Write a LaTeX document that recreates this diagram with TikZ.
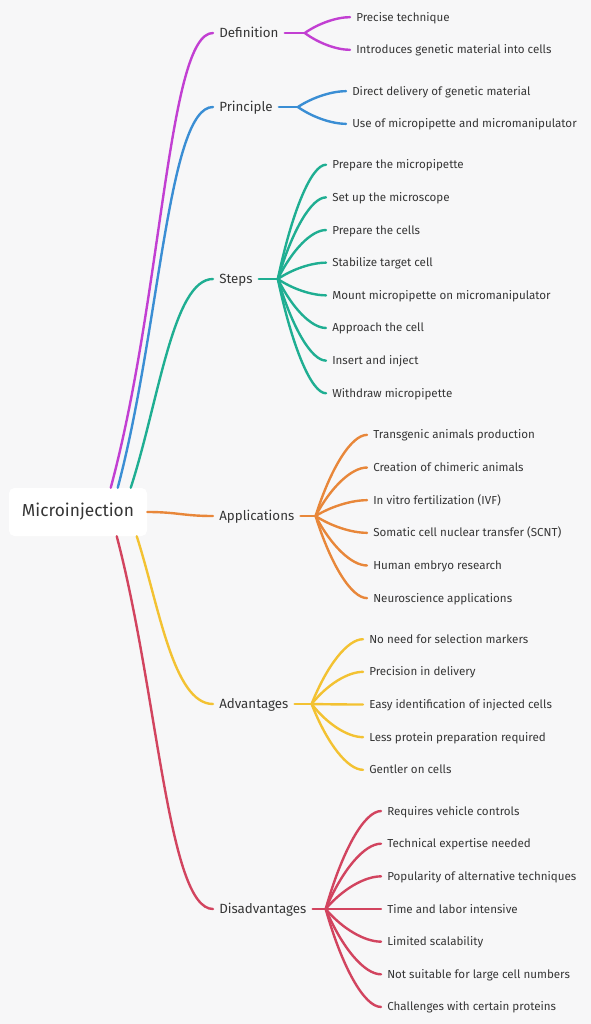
\documentclass[tikz,border=0pt]{standalone}
\usepackage{fontspec}
\setmainfont{Fira Sans}
\usetikzlibrary{calc}
\definecolor{bgcol}{HTML}{F7F7F8}
\definecolor{txtcol}{HTML}{363636}
\definecolor{defcol}{HTML}{C23FD2}
\definecolor{prncol}{HTML}{3A8ED4}
\definecolor{stpcol}{HTML}{1FAE92}
\definecolor{appcol}{HTML}{E8873A}
\definecolor{advcol}{HTML}{F3C232}
\definecolor{discol}{HTML}{D2445F}
\tikzset{
  rootbox/.style={fill=white, rounded corners=4pt, minimum width=103.5pt, minimum height=36pt, text=txtcol, font=\fontsize{13}{15}\selectfont},
  branch/.style={anchor=west, text=txtcol, font=\fontsize{10}{12}\selectfont, inner xsep=4.5pt, inner ysep=0pt, text height=6.9pt, text depth=0pt},
  leaf/.style={anchor=west, text=txtcol, font=\fontsize{8.7}{10}\selectfont, inner xsep=4.5pt, inner ysep=0pt, text height=6pt, text depth=0pt},
  link/.style={line width=1.8pt, line cap=round},
}
\newcommand{\leafline}[3]{\draw[link, #1] let \p1=(#2), \p2=(#3.west) in (\p1) .. controls ({\x1+0.3*(\x2-\x1)},{\y1+0.6*(\y2-\y1)}) and ({\x2-0.3*(\x2-\x1)},\y2) .. (\p2);}
\begin{document}
\begin{tikzpicture}[x=0.75pt,y=-0.75pt]
\fill[bgcol] (0,0) rectangle (591,1024);
\useasboundingbox (0,0) rectangle (591,1024);

\node[rootbox] (root) at (78,512) {Microinjection};

\node[branch] (def) at (213,33) {Definition};
\node[branch] (prn) at (213,107) {Principle};
\node[branch] (stp) at (213,279) {Steps};
\node[branch] (app) at (213,516) {Applications};
\node[branch] (adv) at (213,704) {Advantages};
\node[branch] (dis) at (213,909) {Disadvantages};

\coordinate (r-def) at ($(root.north west)+(102,0)$);
\coordinate (r-prn) at ($(root.north west)+(109,0)$);
\coordinate (r-stp) at ($(root.north west)+(122,0)$);
\coordinate (r-adv) at ($(root.south west)+(128,0)$);
\coordinate (r-dis) at ($(root.south west)+(108,0)$);

\draw[link, defcol] (r-def) .. controls +(52,-193) and +(-45,0) .. (def.west);
\draw[link, prncol] (r-prn) .. controls +(42,-158) and +(-45,0) .. (prn.west);
\draw[link, stpcol] (r-stp) .. controls +(28,-86) and +(-40,0) .. (stp.west);
\draw[link, appcol] (root.east) .. controls +(30,0) and +(-30,0) .. (app.west);
\draw[link, advcol] (r-adv) .. controls +(22,68) and +(-40,0) .. (adv.west);
\draw[link, discol] (r-dis) .. controls +(41,155) and +(-45,0) .. (dis.west);

\coordinate (def-hub) at ($(def.east)+(20,0)$);
\coordinate (prn-hub) at ($(prn.east)+(19,0)$);
\coordinate (stp-hub) at ($(stp.east)+(19,0)$);
\coordinate (app-hub) at ($(app.east)+(15,0)$);
\coordinate (adv-hub) at ($(adv.east)+(17,0)$);
\coordinate (dis-hub) at ($(dis.east)+(13,0)$);

\draw[link, defcol] (def.east) -- (def-hub);
\draw[link, prncol] (prn.east) -- (prn-hub);
\draw[link, stpcol] (stp.east) -- (stp-hub);
\draw[link, appcol] (app.east) -- (app-hub);
\draw[link, advcol] (adv.east) -- (adv-hub);
\draw[link, discol] (dis.east) -- (dis-hub);

\foreach \t [count=\i] in {Precise technique, Introduces genetic material into cells} {
  \node[leaf] (def-\i) at (350,{33.5+(\i-1.5)*32.65}) {\t};
  \leafline{defcol}{def-hub}{def-\i}
}
\foreach \t [count=\i] in {Direct delivery of genetic material, Use of micropipette and micromanipulator} {
  \node[leaf] (prn-\i) at (346,{107.5+(\i-1.5)*32.65}) {\t};
  \leafline{prncol}{prn-hub}{prn-\i}
}
\foreach \t [count=\i] in {Prepare the micropipette, Set up the microscope, Prepare the cells, Stabilize target cell, Mount micropipette on micromanipulator, Approach the cell, Insert and inject, Withdraw micropipette} {
  \node[leaf] (stp-\i) at (326,{279+(\i-4.5)*32.65}) {\t};
  \leafline{stpcol}{stp-hub}{stp-\i}
}
\foreach \t [count=\i] in {Transgenic animals production, Creation of chimeric animals, In vitro fertilization (IVF), Somatic cell nuclear transfer (SCNT), Human embryo research, Neuroscience applications} {
  \node[leaf] (app-\i) at (367,{516.5+(\i-3.5)*32.65}) {\t};
  \leafline{appcol}{app-hub}{app-\i}
}
\foreach \t [count=\i] in {No need for selection markers, Precision in delivery, Easy identification of injected cells, Less protein preparation required, Gentler on cells} {
  \node[leaf] (adv-\i) at (363,{704.5+(\i-3)*32.65}) {\t};
  \leafline{advcol}{adv-hub}{adv-\i}
}
\foreach \t [count=\i] in {Requires vehicle controls, Technical expertise needed, Popularity of alternative techniques, Time and labor intensive, Limited scalability, Not suitable for large cell numbers, Challenges with certain proteins} {
  \node[leaf] (dis-\i) at (381,{909+(\i-4)*32.65}) {\t};
  \leafline{discol}{dis-hub}{dis-\i}
}
\end{tikzpicture}
\end{document}
